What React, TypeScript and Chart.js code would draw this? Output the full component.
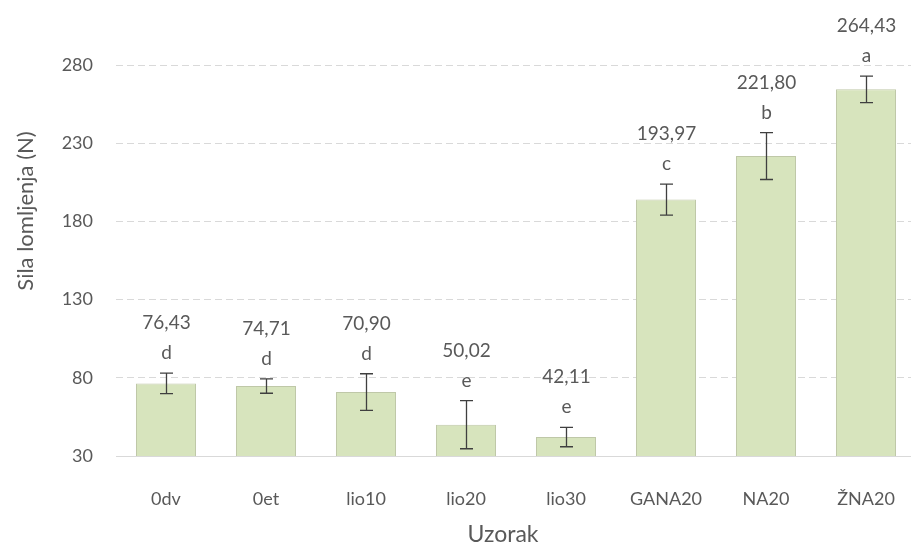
import React, { useEffect, useRef } from "react";
import { Chart, registerables } from "chart.js";

Chart.register(...registerables);

const categories = ["0dv", "0et", "lio10", "lio20", "lio30", "GANA20", "NA20", "ŽNA20"];
const means = [76.43, 74.71, 70.9, 50.02, 42.11, 193.97, 221.8, 264.43];
const errors = [6.6, 4.6, 11.7, 15.4, 6.2, 9.9, 15.0, 8.5];
const letters = ["d", "d", "d", "e", "e", "c", "b", "a"];
const valueLabels = ["76,43", "74,71", "70,90", "50,02", "42,11", "193,97", "221,80", "264,43"];
const yTicks = [30, 80, 130, 180, 230, 280];

const FONT = "Lato, 'Open Sans', sans-serif";
const TEXT = "#595959";

const overlayPlugin = {
  id: "overlay",
  afterDatasetsDraw(chart: any) {
    const ctx = chart.ctx;
    const y = chart.scales.y;
    const meta = chart.getDatasetMeta(0);
    ctx.save();
    ctx.strokeStyle = "#3f3f3f";
    ctx.lineWidth = 1.3;
    meta.data.forEach((bar: any, i: number) => {
      const x = Math.round(bar.x) + 0.5;
      const top = y.getPixelForValue(means[i] + errors[i]);
      const bot = y.getPixelForValue(means[i] - errors[i]);
      ctx.beginPath();
      ctx.moveTo(x, top);
      ctx.lineTo(x, bot);
      ctx.moveTo(x - 6.5, top);
      ctx.lineTo(x + 6.5, top);
      ctx.moveTo(x - 6.5, bot);
      ctx.lineTo(x + 6.5, bot);
      ctx.stroke();
      ctx.fillStyle = TEXT;
      ctx.textAlign = "center";
      ctx.textBaseline = "middle";
      ctx.font = `19px ${FONT}`;
      const letterY = top - 20;
      ctx.fillText(letters[i], x, letterY);
      ctx.fillText(valueLabels[i], x, letterY - 30);
    });
    // axis titles
    ctx.fillStyle = TEXT;
    ctx.textAlign = "center";
    ctx.textBaseline = "middle";
    ctx.font = `23px ${FONT}`;
    ctx.fillText("Uzorak", 503, 535);
    ctx.font = `22px ${FONT}`;
    ctx.translate(26, 211);
    ctx.rotate(-Math.PI / 2);
    ctx.fillText("Sila lomljenja (N)", 0, 0);
    ctx.restore();
  },
};

export default function App() {
  const ref = useRef<HTMLCanvasElement | null>(null);
  useEffect(() => {
    document.body.style.margin = "0";
    document.body.style.overflow = "hidden";
    const chart = new Chart(ref.current as HTMLCanvasElement, {
      type: "bar",
      data: {
        labels: categories,
        datasets: [
          {
            data: means,
            backgroundColor: "#d7e4bd",
            borderColor: "#bfc8a8",
            borderWidth: 1,
            categoryPercentage: 1,
            barPercentage: 0.6,
          },
        ],
      },
      options: {
        animation: false,
        responsive: false,
        layout: { padding: { top: 65, right: 4, left: 0, bottom: 0 } },
        plugins: { legend: { display: false }, tooltip: { enabled: false } },
        scales: {
          x: {
            grid: { display: false },
            border: { display: true, color: "#d9d9d9", width: 1 },
            ticks: { color: TEXT, font: { family: FONT, size: 18 }, padding: 24, maxRotation: 0 },
            afterFit(scale: any) {
              scale.height = 545 - 456;
            },
          },
          y: {
            min: 30,
            max: 280,
            afterBuildTicks(scale: any) {
              scale.ticks = yTicks.map((v) => ({ value: v }));
            },
            grid: { color: "#d9d9d9", drawTicks: false, lineWidth: 1 },
            border: { display: false, dash: [7, 4] },
            ticks: { color: TEXT, font: { family: FONT, size: 18 }, padding: 23 },
            afterFit(scale: any) {
              scale.width = 116;
            },
          },
        },
      },
      plugins: [overlayPlugin],
    });
    return () => chart.destroy();
  }, []);
  return <canvas ref={ref} width={920} height={545} style={{ display: "block" }} />;
}
